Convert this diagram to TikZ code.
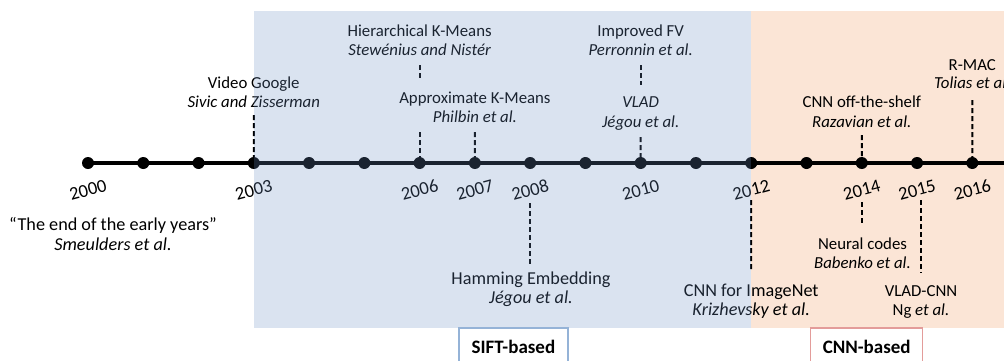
\documentclass[tikz,border=0pt]{standalone}
\usepackage{fontspec}
\setmainfont{Carlito}
\definecolor{orangebg}{HTML}{FBE5D6}
\definecolor{blueov}{HTML}{6B8FC3}
\definecolor{siftc}{HTML}{95B3D7}
\definecolor{cnnc}{HTML}{E39C9A}
\begin{document}
\begin{tikzpicture}[x=1pt,y=-1pt,
  dot/.style={circle,fill=black,inner sep=0pt,minimum size=12pt},
  ttl/.style={font=\fontsize{16.8}{19}\selectfont,inner sep=0pt,anchor=base,text height=12pt},
  ittl/.style={ttl,font=\fontsize{16.8}{19}\selectfont\itshape},
  auth/.style={font=\fontsize{16.8}{19}\selectfont\itshape,inner sep=0pt,anchor=base,text depth=0pt},
  bttl/.style={ttl,font=\fontsize{18.2}{20}\selectfont},
  bauth/.style={auth,font=\fontsize{18.2}{20}\selectfont\itshape},
  yr/.style={font=\fontsize{18.5}{20}\selectfont,rotate=15,inner sep=0pt},
  con/.style={line width=2pt,dash pattern=on 5pt off 3pt},
  era/.style={draw,line width=1.3pt,inner sep=0pt,minimum height=38pt,text height=12.3pt,text depth=0pt,font=\fontsize{19}{22}\selectfont\bfseries}]
\useasboundingbox (0,0) rectangle (1004,360);
\clip (0,0) rectangle (1004,360);
% CNN era background
\fill[orangebg] (751.2,11) rectangle (1010,328);
% timeline dots
\foreach \i in {0,...,16}{
  \pgfmathtruncatemacro\yy{2000+\i}
  \node[dot] (d\yy) at ({88+55.27*\i},163) {};
}
\coordinate (tend) at (1010,163);
\draw[line width=4pt] (d2000.center) -- (tend);
% year labels
\foreach \y in {2000,2003,2006,2007,2008,2010,2012,2014,2015,2016}{
  \node[yr] (y\y) at ([yshift=-27pt]d\y) {\y};
}
% labels above
\node[ttl] (vg-t) at (253.8,88) {Video Google};
\node[auth] (vg-a) at (253.8,107) {Sivic and Zisserman};
\draw[con,shorten <=8pt] (vg-a.south) -- (d2003.center);

\node[ttl] (hkm-t) at (419.6,36) {Hierarchical K-Means};
\node[auth] (hkm-a) at (419.6,55) {Stewénius and Nistér};
\node[ttl] (akm-t) at (474.9,103) {Approximate K-Means};
\node[auth] (akm-a) at (474.9,122) {Philbin et al.};
\draw[con,shorten <=10pt,shorten >=10pt] (hkm-a.south) -- (hkm-a.south |- akm-t.north);
\draw[con,shorten <=10pt] (d2006 |- akm-a.south) -- (d2006.center);
\draw[con,shorten <=10pt] (akm-a.south) -- (d2007.center);

\node[ttl] (ifv-t) at (640.7,36) {Improved FV};
\node[auth] (ifv-a) at (640.7,55) {Perronnin et al.};
\node[ittl] (vlad-t) at (640.7,107) {VLAD};
\node[auth] (vlad-a) at (640.7,127) {Jégou et al.};
\draw[con,shorten <=10pt,shorten >=10pt] (ifv-a.south) -- (ifv-a.south |- vlad-t.north);
\draw[con,shorten <=10pt] (vlad-a.south) -- (d2010.center);

\node[ttl] (ots-t) at (861.8,107) {CNN off-the-shelf};
\node[auth] (ots-a) at (861.8,127) {Razavian et al.};
\draw[con,shorten <=8pt] (ots-a.south) -- (d2014.center);

\node[ttl] (rmac-t) at (972.3,70) {R-MAC};
\node[auth] (rmac-a) at (972.3,88) {Tolias et al.};
\draw[con,shorten <=12pt] (rmac-a.south) -- (d2016.center);

% labels below
\node[bttl] (early-t) at (113,230) {“The end of the early years”};
\node[bauth] (early-a) at (113,250) {Smeulders et al.};

\node[bttl] (he-t) at (531,284) {Hamming Embedding};
\node[bauth] (he-a) at (531,303) {Jégou et al.};
\draw[con,shorten <=40pt,shorten >=5pt] (d2008.center) -- (d2008 |- he-t.north);

\node[bttl] (in-t) at (751.2,296) {CNN for ImageNet};
\node[bauth] (in-a) at (751.2,315) {Krizhevsky et al.};
\draw[con,shorten <=37pt,shorten >=12pt] (d2012.center) -- (in-t.north);

\node[ttl] (nc-t) at (862.5,249) {Neural codes};
\node[auth] (nc-a) at (862.5,268) {Babenko et al.};
\draw[con,shorten <=39pt,shorten >=12pt] (d2014.center) -- (d2014 |- nc-t.north);

\node[ttl] (vc-t) at (921,296) {VLAD-CNN};
\node[ttl] (vc-a) at (921,315) {Ng \textit{et al.}};
\draw[con,shorten <=37pt,shorten >=11pt] (vc-t.north |- d2015) -- (vc-t.north);

% SIFT era overlay
\fill[blueov,fill opacity=0.25] (253.8,11) rectangle (751.2,328);

% era boxes
\node[era,draw=siftc,minimum width=109pt] (sift) at (513.4,347) {SIFT-based};
\node[era,draw=cnnc,minimum width=112pt] (cnn) at (866.7,347) {CNN-based};
\end{tikzpicture}
\end{document}
